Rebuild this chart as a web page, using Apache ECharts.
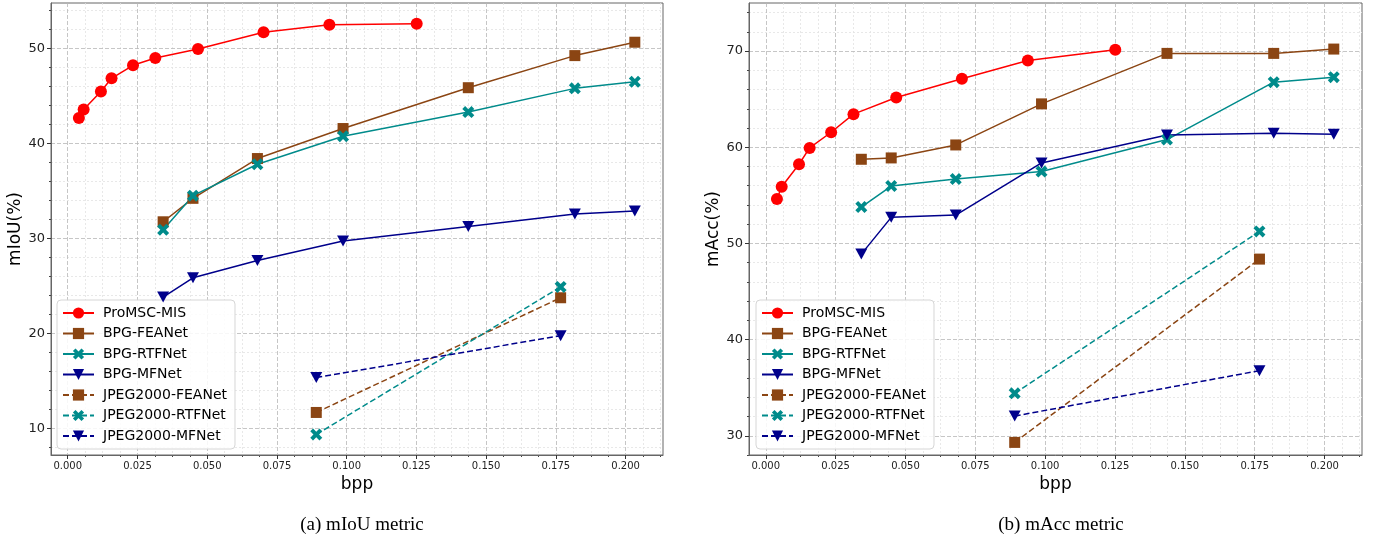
<!DOCTYPE html>
<html>
<head>
<meta charset="utf-8">
<script src="https://cdn.jsdelivr.net/npm/echarts@6/dist/echarts.min.js"></script>
<style>
html,body{margin:0;padding:0;background:#fff;}
#chart{width:1377px;height:542px;}
</style>
</head>
<body>
<div id="chart"></div>
<script>
// ---- data ----
const seriesNames = ['ProMSC-MIS','BPG-FEANet','BPG-RTFNet','BPG-MFNet','JPEG2000-FEANet','JPEG2000-RTFNet','JPEG2000-MFNet'];
const bppProMSC = [0.0040, 0.0057, 0.0119, 0.0157, 0.0234, 0.0314, 0.0467, 0.0702, 0.0938, 0.1251];
const bppBPG = [0.0342, 0.0449, 0.0680, 0.0987, 0.1436, 0.1818, 0.2033];
const bppJ2K = [0.0891, 0.1767];

const iouProMSC = [42.68, 43.59, 45.49, 46.87, 48.24, 49.01, 49.96, 51.73, 52.50, 52.61];
const iouBPGFEANet = [31.76, 34.23, 38.42, 41.58, 45.88, 49.26, 50.67];
const iouBPGRTFNet = [30.92, 34.51, 37.82, 40.77, 43.31, 45.81, 46.51];
const iouBPGMFNet = [23.83, 25.86, 27.68, 29.73, 31.27, 32.57, 32.89];
const iouJ2KFEANet = [11.68, 23.76];
const iouJ2KRTFNet = [9.36, 24.90];
const iouJ2KMFNet = [15.35, 19.77];

const accProMSC = [54.62, 55.90, 58.23, 59.93, 61.56, 63.44, 65.17, 67.12, 69.03, 70.14];
const accBPGFEANet = [58.75, 58.89, 60.24, 64.51, 69.76, 69.76, 70.21];
const accBPGRTFNet = [53.78, 55.97, 56.70, 57.47, 60.80, 66.77, 67.29];
const accBPGMFNet = [48.89, 52.71, 52.95, 58.37, 61.28, 61.46, 61.35];
const accJ2KFEANet = [29.31, 48.37];
const accJ2KRTFNet = [34.41, 51.25];
const accJ2KMFNet = [32.05, 36.77];

const xTicks = [0, 0.025, 0.05, 0.075, 0.1, 0.125, 0.15, 0.175, 0.2];
const yTicksIoU = [10, 20, 30, 40, 50];
const yTicksAcc = [30, 40, 50, 60, 70];
const xMinorTicks = [0.00625,0.0125,0.01875,0.03125,0.0375,0.04375,0.05625,0.0625,0.06875,0.08125,0.0875,0.09375,0.10625,0.1125,0.11875,0.13125,0.1375,0.14375,0.15625,0.1625,0.16875,0.18125,0.1875,0.19375,0.20625,0.2125];
const yMinorIoU = [8,12,14,16,18,22,24,26,28,32,34,36,38,42,44,46,48,52,54];
const yMinorAcc = [28,32,34,36,38,42,44,46,48,52,54,56,58,62,64,66,68,72,74];
const captions = ['(a) mIoU metric', '(b) mAcc metric'];
const yNames = ['mIoU(%)', 'mAcc(%)'];

// ---- style ----
const XPATH = 'path://M0,1.4L1.4,0L3,1.6L4.6,0L6,1.4L4.4,3L6,4.6L4.6,6L3,4.4L1.4,6L0,4.6L1.6,3Z';
const styles = [
  {color:'#ff0000', symbol:'circle', size:12, rot:0, dash:false},
  {color:'#8b4513', symbol:'rect', size:11, rot:0, dash:false},
  {color:'#008b8b', symbol:XPATH, size:12, rot:0, dash:false},
  {color:'#00008b', symbol:'triangle', size:[12,11], rot:180, dash:false},
  {color:'#8b4513', symbol:'rect', size:11, rot:0, dash:true},
  {color:'#008b8b', symbol:XPATH, size:12, rot:0, dash:true},
  {color:'#00008b', symbol:'triangle', size:[12,11], rot:180, dash:true}
];
const xs = [bppProMSC, bppBPG, bppBPG, bppBPG, bppJ2K, bppJ2K, bppJ2K];
const ysIoU = [iouProMSC, iouBPGFEANet, iouBPGRTFNet, iouBPGMFNet, iouJ2KFEANet, iouJ2KRTFNet, iouJ2KMFNet];
const ysAcc = [accProMSC, accBPGFEANet, accBPGRTFNet, accBPGMFNet, accJ2KFEANet, accJ2KRTFNet, accJ2KMFNet];

const FONT = 'DejaVu Sans';
const grids = [
  {left:51, top:3, width:612, height:452, show:true, borderColor:'#666', borderWidth:1, backgroundColor:'#fff'},
  {left:749, top:3, width:613, height:452, show:true, borderColor:'#666', borderWidth:1, backgroundColor:'#fff'}
];

function majorX(g){
  return {type:'value', gridIndex:g, min:-0.006, max:0.2134,
    name:'bpp', nameLocation:'middle', nameGap:17,
    nameTextStyle:{fontFamily:FONT, fontSize:17, color:'#000'},
    axisLine:{show:true, onZero:false, lineStyle:{color:'#666', width:1}},
    axisTick:{show:true, length:4, customValues:xTicks, lineStyle:{color:'#333'}},
    axisLabel:{customValues:xTicks, fontFamily:FONT, fontSize:10, color:'#222', margin:6,
      formatter: v => v.toFixed(3)},
    splitLine:{show:true, lineStyle:{color:'#b8b8b8', type:[4,2], width:0.8}},
    z:3};
}
function minorX(g){
  return {type:'value', gridIndex:g, min:-0.006, max:0.2134, position:'bottom',
    axisLine:{show:false, onZero:false},
    axisTick:{show:true, length:2, customValues:xMinorTicks, lineStyle:{color:'#444'}},
    axisLabel:{show:false, customValues:xMinorTicks},
    splitLine:{show:true, lineStyle:{color:'#e2e2e2', type:[2,2], width:0.8}},
    z:2};
}
function majorY(g, min, max, ticks, name){
  return {type:'value', gridIndex:g, min:min, max:max,
    name:name, nameLocation:'middle', nameGap:25,
    nameTextStyle:{fontFamily:FONT, fontSize:17, color:'#000'},
    axisLine:{show:true, onZero:false, lineStyle:{color:'#666', width:1}},
    axisTick:{show:true, length:4, customValues:ticks, lineStyle:{color:'#333'}},
    axisLabel:{customValues:ticks, fontFamily:FONT, fontSize:13, color:'#222', margin:6},
    splitLine:{show:true, lineStyle:{color:'#b8b8b8', type:[4,2], width:0.8}},
    z:3};
}
function minorY(g, min, max, ticks){
  return {type:'value', gridIndex:g, min:min, max:max, position:'left',
    axisLine:{show:false, onZero:false},
    axisTick:{show:true, length:2, customValues:ticks, lineStyle:{color:'#444'}},
    axisLabel:{show:false, customValues:ticks},
    splitLine:{show:true, lineStyle:{color:'#e2e2e2', type:[2,2], width:0.8}},
    z:2};
}

const series = [];
[ysIoU, ysAcc].forEach((ys, g) => {
  ys.forEach((yv, i) => {
    const s = styles[i];
    series.push({
      name: seriesNames[i], type:'line', xAxisIndex: g*2, yAxisIndex: g*2,
      data: xs[i].map((x, k) => [x, yv[k]]),
      symbol: s.symbol, symbolSize: s.size, symbolRotate: s.rot,
      showAllSymbol:true, animation:false, z:5,
      lineStyle:{color:s.color, width:1.5, type: s.dash ? [6,3] : 'solid'},
      itemStyle:{color:s.color, borderColor:s.color, borderWidth:0}
    });
  });
});

function legend(left){
  return {left:left, top:300, orient:'vertical', data:seriesNames,
    itemWidth:31, itemHeight:14, itemGap:6.5,
    padding:[6,8,6,5],
    backgroundColor:'rgba(255,255,255,0.85)', borderColor:'#d6d6d6', borderWidth:1, borderRadius:4,
    textStyle:{fontFamily:FONT, fontSize:14, color:'#000', padding:[0,0,0,4]},
    selectedMode:false};
}

const option = {
  animation:false,
  backgroundColor:'#fff',
  grid: grids,
  xAxis: [majorX(0), minorX(0), majorX(1), minorX(1)],
  yAxis: [majorY(0, 7.2, 54.8, yTicksIoU, yNames[0]), minorY(0, 7.2, 54.8, yMinorIoU),
          majorY(1, 28, 75, yTicksAcc, yNames[1]), minorY(1, 28, 75, yMinorAcc)],
  legend: [legend(57), legend(756)],
  title: [
    {text:captions[0], left:357, top:511, textAlign:'center',
     textStyle:{fontFamily:'Liberation Serif', fontSize:19, fontWeight:'normal', color:'#000'}},
    {text:captions[1], left:1056, top:511, textAlign:'center',
     textStyle:{fontFamily:'Liberation Serif', fontSize:19, fontWeight:'normal', color:'#000'}}
  ],
  series: series
};
const chart = echarts.init(document.getElementById('chart'), null, {renderer:'canvas'});
chart.setOption(option);
</script>
</body>
</html>
